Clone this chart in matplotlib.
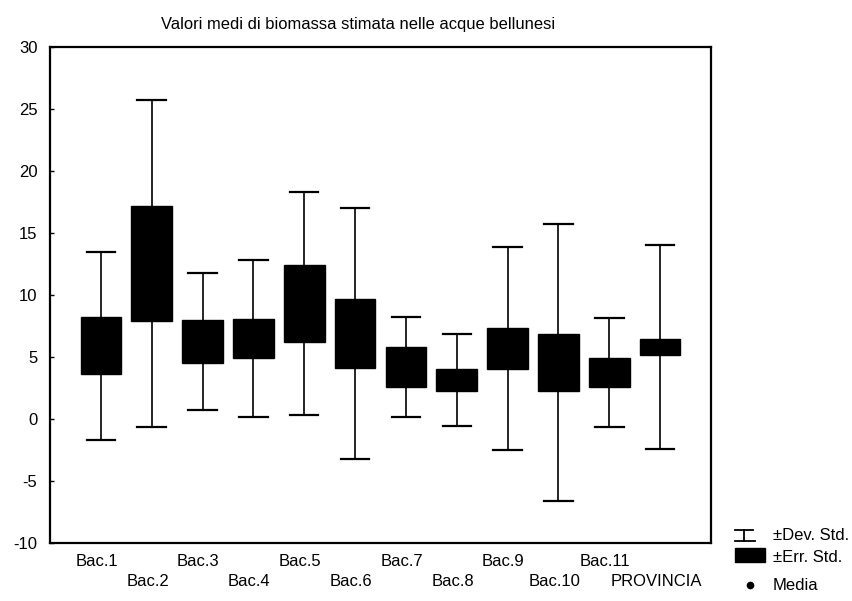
import matplotlib
matplotlib.use("Agg")
import matplotlib.pyplot as plt
from matplotlib.lines import Line2D
from matplotlib.patches import Rectangle
import matplotlib.transforms as mtransforms
import numpy as np

plt.rcParams['font.family'] = ['Liberation Sans', 'DejaVu Sans']

categories = ["Bac.1", "Bac.2", "Bac.3", "Bac.4", "Bac.5", "Bac.6", "Bac.7",
              "Bac.8", "Bac.9", "Bac.10", "Bac.11", "PROVINCIA"]
media = [5.9, 12.55, 6.25, 6.5, 9.3, 6.9, 4.2, 3.15, 5.7, 4.55, 3.75, 5.8]
err_std = [2.3, 4.65, 1.7, 1.6, 3.1, 2.75, 1.6, 0.87, 1.67, 2.3, 1.15, 0.63]
dev_std = [7.6, 13.2, 5.55, 6.3, 9.0, 10.15, 4.05, 3.7, 8.2, 11.15, 4.4, 8.25]

title = "Valori medi di biomassa stimata nelle acque bellunesi"
yticks = [-10, -5, 0, 5, 10, 15, 20, 25, 30]

W, H = 853, 601
fig = plt.figure(figsize=(W / 100, H / 100), dpi=100)
ax = fig.add_axes([50 / W, 1 - 543 / H, 661 / W, 496 / H])

x = np.arange(1, len(categories) + 1)
box_w = 0.8
cap_w = 0.56
for xi, m, se, sd in zip(x, media, err_std, dev_std):
    ax.plot([xi, xi], [m - sd, m + sd], color='black', lw=1.2, zorder=1)
    ax.plot([xi - cap_w / 2, xi + cap_w / 2], [m + sd, m + sd], color='black', lw=1.6, zorder=1)
    ax.plot([xi - cap_w / 2, xi + cap_w / 2], [m - sd, m - sd], color='black', lw=1.6, zorder=1)
    ax.add_patch(Rectangle((xi - box_w / 2, m - se), box_w, 2 * se,
                           facecolor='black', edgecolor='black', zorder=2))
ax.scatter(x, media, s=12, color='black', zorder=3)

ax.set_xlim(0, 13)
ax.set_ylim(-10, 30)
ax.set_yticks(yticks)
ax.set_yticklabels([str(t) for t in yticks], fontsize=12)
ax.tick_params(axis='y', direction='in', length=3, pad=9, width=1)
ax.set_xticks(x)
ax.set_xticklabels(categories, fontsize=12)
ax.tick_params(axis='x', length=0, pad=8)
down = mtransforms.ScaledTranslation(-3 / 72, -14 / 72, fig.dpi_scale_trans)
left = mtransforms.ScaledTranslation(-3 / 72, 0, fig.dpi_scale_trans)
for i, lab in enumerate(ax.get_xticklabels()):
    lab.set_transform(lab.get_transform() + (down if i % 2 == 1 else left))
for s in ax.spines.values():
    s.set_linewidth(1.6)
    s.set_color('black')

fig.text(358 / W, 1 - 25 / H, title, ha='center', va='center', fontsize=11.9)

# legend (figure pixel coords)
def fx(px):
    return px / W

def fy(py):
    return 1 - py / H

lc = 'black'
fig.add_artist(Line2D([fx(735), fx(753)], [fy(530), fy(530)], color=lc, lw=1.3))
fig.add_artist(Line2D([fx(744), fx(744)], [fy(530), fy(541)], color=lc, lw=1.3))
fig.add_artist(Line2D([fx(735), fx(755)], [fy(541), fy(541)], color=lc, lw=1.3))
fig.add_artist(Rectangle((fx(735), fy(562)), fx(765) - fx(735), fy(548) - fy(562),
                         transform=fig.transFigure, facecolor='black', edgecolor='black'))
fig.add_artist(Line2D([fx(750)], [fy(585)], marker='o', markersize=4.5, color='black', lw=0))
fig.text(fx(773), fy(536), "±Dev. Std.", ha='left', va='center', fontsize=12)
fig.text(fx(773), fy(557), "±Err. Std.", ha='left', va='center', fontsize=12)
fig.text(fx(773), fy(586), "Media", ha='left', va='center', fontsize=12)

fig.savefig("out.png", dpi=100)
